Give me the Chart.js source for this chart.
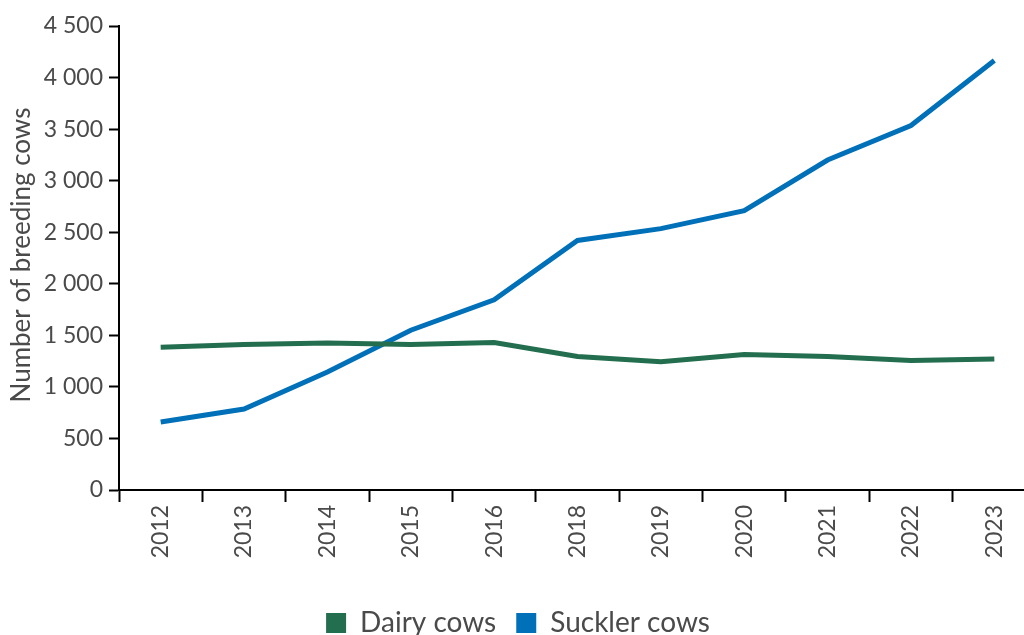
<!DOCTYPE html>
<html>
<head>
<meta charset="utf-8">
<script src="https://cdn.jsdelivr.net/npm/chart.js@4"></script>
<style>
  html, body { margin: 0; padding: 0; background: #fff; overflow: hidden; }
  #wrap { width: 1038px; height: 635px; position: relative; }
</style>
</head>
<body>
<div id="wrap"><canvas id="myChart"></canvas></div>
<script>
const years = ['2012', '2013', '2014', '2015', '2016', '2018', '2019', '2020', '2021', '2022', '2023'];
const dairyCows = [1385, 1410, 1425, 1410, 1430, 1295, 1245, 1315, 1295, 1255, 1270];
const sucklerCows = [660, 785, 1145, 1550, 1845, 2420, 2535, 2710, 3200, 3535, 4165];
const yTicks = [0, 500, 1000, 1500, 2000, 2500, 3000, 3500, 4000, 4500];

const textColor = '#4a4a4a';
const fontFamily = 'Lato, "Noto Sans", sans-serif';

const formatNum = (v) => v >= 1000 ? String(v).replace(/\B(?=(\d{3})+(?!\d))/g, ' ') : String(v);

// y title drawn by hand so it can sit over the tick labels like the original
const yTitlePlugin = {
    id: 'yTitle',
    afterDraw(chart) {
        const ctx = chart.ctx;
        ctx.save();
        ctx.translate(22, 255);
        ctx.rotate(-Math.PI / 2);
        ctx.font = '26px ' + fontFamily;
        ctx.fillStyle = textColor;
        ctx.textAlign = 'center';
        ctx.textBaseline = 'middle';
        ctx.fillText('Number of breeding cows', 0, 0);
        ctx.restore();
    }
};

new Chart(document.getElementById('myChart'), {
    type: 'line',
    data: {
        labels: years,
        datasets: [
            {
                label: 'Dairy cows',
                data: dairyCows,
                borderColor: '#236e4f',
                backgroundColor: '#236e4f',
                borderWidth: 5,
                pointRadius: 0,
                tension: 0,
            },
            {
                label: 'Suckler cows',
                data: sucklerCows,
                borderColor: '#0070b8',
                backgroundColor: '#0070b8',
                borderWidth: 5,
                pointRadius: 0,
                tension: 0,
            },
        ],
    },
    options: {
        responsive: true,
        maintainAspectRatio: false,
        animation: false,
        layout: { padding: { top: 26, right: 2, left: 0, bottom: -12 } },
        plugins: {
            legend: {
                position: 'bottom',
                labels: {
                    color: textColor,
                    font: { size: 28, family: fontFamily },
                    boxWidth: 20,
                    boxHeight: 20,
                    padding: 20,
                    generateLabels(chart) {
                        const items = Chart.defaults.plugins.legend.labels.generateLabels(chart);
                        return items.map(it => ({ ...it, lineWidth: 0 }));
                    },
                },
            },
            tooltip: { enabled: false },
        },
        scales: {
            x: {
                offset: true,
                grid: {
                    offset: true,
                    drawOnChartArea: false,
                    color: '#000',
                    tickLength: 12,
                    tickWidth: 2,
                },
                border: { color: '#000', width: 2 },
                ticks: {
                    color: textColor,
                    font: { size: 23, family: fontFamily },
                    minRotation: 90,
                    maxRotation: 90,
                    padding: 3,
                },
                afterFit(scale) { scale.height = 99; },
            },
            y: {
                min: 0,
                max: 4500,
                afterBuildTicks(scale) { scale.ticks = yTicks.map(v => ({ value: v })); },
                grid: {
                    drawOnChartArea: false,
                    color: '#000',
                    tickLength: 10,
                    tickWidth: 2,
                },
                border: { color: '#000', width: 2 },
                ticks: {
                    color: textColor,
                    font: { size: 23, family: fontFamily },
                    padding: 6,
                    callback: (v) => formatNum(v),
                },
                afterFit(scale) { scale.width = 119; },
            },
        },
    },
    plugins: [yTitlePlugin],
});
</script>
</body>
</html>
